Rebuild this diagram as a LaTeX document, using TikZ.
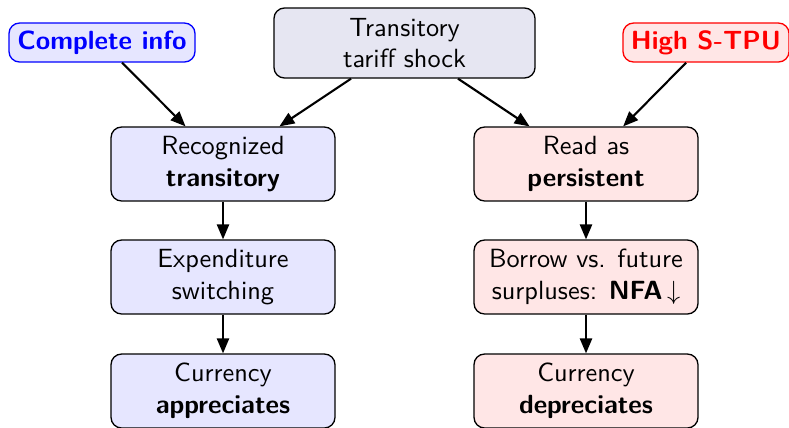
\documentclass[tikz,border=0pt]{standalone}
\usepackage{fontspec}
\usetikzlibrary{arrows.meta}
\definecolor{topfill}{RGB}{230,230,242}
\definecolor{bluefill}{RGB}{230,230,255}
\definecolor{redfill}{RGB}{255,230,230}
\tikzset{
  box/.style={draw=black, line width=0.5pt, rounded corners=4pt, align=center,
    font=\sffamily, minimum width=85.1pt, minimum height=28.1pt, inner sep=2pt},
  bluebox/.style={box, fill=bluefill},
  redbox/.style={box, fill=redfill},
  topbox/.style={box, fill=topfill, minimum width=99.2pt, minimum height=26.6pt},
  tagbox/.style={rounded corners=4pt, line width=0.5pt, font=\sffamily\bfseries,
    minimum height=14.8pt, inner sep=2pt},
  conn/.style={-{Triangle[length=5.7pt,width=4.6pt]}, line width=0.8pt}
}
\begin{document}
\begin{tikzpicture}[x=0.38pt, y=-0.38pt]
\useasboundingbox (0,0) rectangle (789,427);
\node[topbox] (shock) at (404.5,43) {Transitory\\tariff shock};
\node[tagbox, draw=blue, fill=bluefill, text=blue, minimum width=70.7pt] (ci) at (102,42.5) {Complete info};
\node[tagbox, draw=red, fill=redfill, text=red, minimum width=63.1pt] (hs) at (706,42.5) {High S-TPU};
\node[bluebox] (rec) at (223,164) {Recognized\\\textbf{transitory}};
\node[bluebox] (exp) at (223,277) {Expenditure\\switching};
\node[bluebox] (app) at (223,391) {Currency\\\textbf{appreciates}};
\node[redbox] (per) at (586,164) {Read as\\\textbf{persistent}};
\node[redbox] (bor) at (586,277) {Borrow vs. future\\surpluses: \textbf{NFA}\,$\downarrow$};
\node[redbox] (dep) at (586,391) {Currency\\\textbf{depreciates}};
\draw[conn] (ci) -- (rec);
\draw[conn] (shock) -- (rec);
\draw[conn] (shock) -- (per);
\draw[conn] (hs) -- (per);
\draw[conn] (rec) -- (exp);
\draw[conn] (exp) -- (app);
\draw[conn] (per) -- (bor);
\draw[conn] (bor) -- (dep);
\end{tikzpicture}
\end{document}
